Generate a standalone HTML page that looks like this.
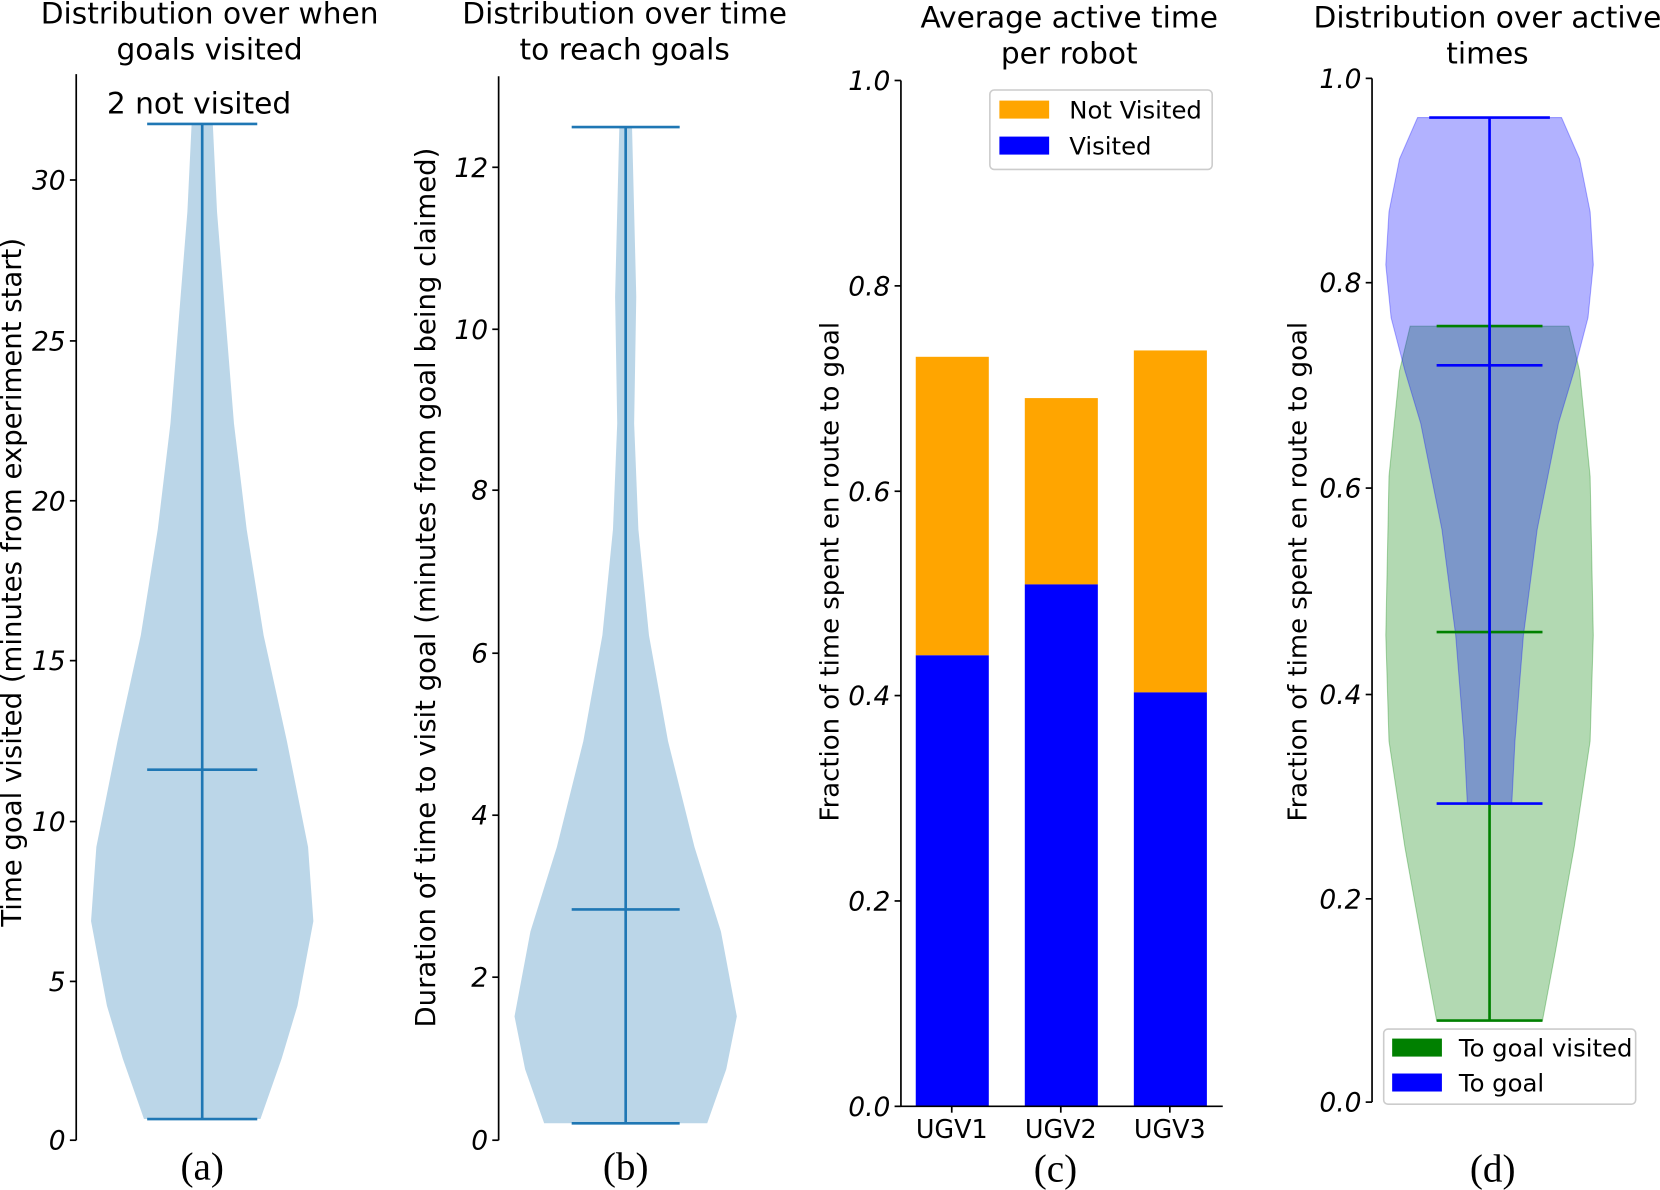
<!DOCTYPE html>
<html><head><meta charset="utf-8"><style>
html,body{margin:0;padding:0;background:#fff;}
svg{display:block;}
text{font-family:"DejaVu Sans","Liberation Sans",sans-serif;fill:#000;}
.t{font-size:28px;}
.tk{font-size:25px;font-style:italic;}
.yl{font-size:26px;}
.yl2{font-size:24.5px;}
.cap{font-family:"Liberation Serif","DejaVu Serif",serif;font-size:37px;}
</style></head><body>
<svg width="1660" height="1190" viewBox="0 0 1568 1124" xmlns="http://www.w3.org/2000/svg">
<!-- Panel a -->
<text class="t" x="198" y="22" text-anchor="middle">Distribution over when</text>
<text class="t" x="198" y="56" text-anchor="middle">goals visited</text>
<text class="t" x="188" y="107" text-anchor="middle">2 not visited</text>
<polygon fill="#1f77b4" fill-opacity="0.3" points="201,117 205,200 213,300 221,400 233,500 249,600 271,700 291,800 296,870 281,950 266,1000 246,1057 136,1057 116,1000 101,950 86,870 91,800 111,700 133,600 149,500 161,400 169,300 177,200 181,117"/>
<g stroke="#1f77b4" stroke-width="2.5">
<line x1="191" y1="117" x2="191" y2="1057"/><line x1="139" y1="117" x2="243" y2="117"/><line x1="139" y1="727" x2="243" y2="727"/><line x1="139" y1="1057" x2="243" y2="1057"/></g>
<g stroke="#000" stroke-width="1.6"><line x1="72" y1="70" x2="72" y2="1077"/>
<line x1="66" y1="1077" x2="72" y2="1077"/><line x1="66" y1="927" x2="72" y2="927"/><line x1="66" y1="776" x2="72" y2="776"/><line x1="66" y1="624" x2="72" y2="624"/><line x1="66" y1="473" x2="72" y2="473"/><line x1="66" y1="322" x2="72" y2="322"/><line x1="66" y1="170" x2="72" y2="170"/></g>
<g class="tk" text-anchor="end"><text x="62" y="1086">0</text><text x="62" y="936">5</text><text x="62" y="785">10</text><text x="62" y="633">15</text><text x="62" y="482">20</text><text x="62" y="331">25</text><text x="62" y="179">30</text></g>
<text class="yl" transform="translate(20,550) rotate(-90)" text-anchor="middle">Time goal visited (minutes from experiment start)</text>
<text class="cap" x="191" y="1114" text-anchor="middle">(a)</text>

<!-- Panel b -->
<text class="t" x="590" y="22" text-anchor="middle">Distribution over time</text>
<text class="t" x="590" y="56" text-anchor="middle">to reach goals</text>
<polygon fill="#1f77b4" fill-opacity="0.3" points="597,120 599,200 601,280 599,400 603,500 613,600 631,700 656,800 681,880 696,960 686,1010 668,1061 514,1061 496,1010 486,960 501,880 526,800 551,700 569,600 579,500 583,400 581,280 583,200 585,120"/>
<g stroke="#1f77b4" stroke-width="2.5">
<line x1="591" y1="120" x2="591" y2="1061"/><line x1="540" y1="120" x2="642" y2="120"/><line x1="540" y1="859" x2="642" y2="859"/><line x1="540" y1="1061" x2="642" y2="1061"/></g>
<g stroke="#000" stroke-width="1.6"><line x1="471" y1="72" x2="471" y2="1077"/>
<line x1="465" y1="1077" x2="471" y2="1077"/><line x1="465" y1="923" x2="471" y2="923"/><line x1="465" y1="770" x2="471" y2="770"/><line x1="465" y1="617" x2="471" y2="617"/><line x1="465" y1="463" x2="471" y2="463"/><line x1="465" y1="311" x2="471" y2="311"/><line x1="465" y1="158" x2="471" y2="158"/></g>
<g class="tk" text-anchor="end"><text x="461" y="1086">0</text><text x="461" y="932">2</text><text x="461" y="779">4</text><text x="461" y="626">6</text><text x="461" y="472">8</text><text x="461" y="320">10</text><text x="461" y="167">12</text></g>
<text class="yl" transform="translate(411,555) rotate(-90)" text-anchor="middle">Duration of time to visit goal (minutes from goal being claimed)</text>
<text class="cap" x="591" y="1114" text-anchor="middle">(b)</text>

<!-- Panel c -->
<text class="t" x="1010" y="26" text-anchor="middle">Average active time</text>
<text class="t" x="1010" y="60" text-anchor="middle">per robot</text>
<rect x="865" y="337" width="69" height="282" fill="#ffa500"/><rect x="865" y="619" width="69" height="426" fill="#0000ff"/>
<rect x="968" y="376" width="69" height="176" fill="#ffa500"/><rect x="968" y="552" width="69" height="493" fill="#0000ff"/>
<rect x="1071" y="331" width="69" height="323" fill="#ffa500"/><rect x="1071" y="654" width="69" height="391" fill="#0000ff"/>
<g stroke="#000" stroke-width="1.6"><line x1="851" y1="76" x2="851" y2="1045"/><line x1="851" y1="1045" x2="1155" y2="1045"/>
<line x1="845" y1="1045" x2="851" y2="1045"/><line x1="845" y1="851" x2="851" y2="851"/><line x1="845" y1="657" x2="851" y2="657"/><line x1="845" y1="464" x2="851" y2="464"/><line x1="845" y1="270" x2="851" y2="270"/><line x1="845" y1="76" x2="851" y2="76"/>
<line x1="899" y1="1045" x2="899" y2="1051"/><line x1="1002" y1="1045" x2="1002" y2="1051"/><line x1="1105" y1="1045" x2="1105" y2="1051"/></g>
<g class="tk" text-anchor="end"><text x="841" y="1054">0.0</text><text x="841" y="860">0.2</text><text x="841" y="666">0.4</text><text x="841" y="473">0.6</text><text x="841" y="279">0.8</text><text x="841" y="85">1.0</text></g>
<g class="t" text-anchor="middle" style="font-size:24px"><text x="899" y="1075">UGV1</text><text x="1002" y="1075">UGV2</text><text x="1105" y="1075">UGV3</text></g>
<text class="yl2" transform="translate(792,540) rotate(-90)" text-anchor="middle">Fraction of time spent en route to goal</text>
<rect x="935" y="85" width="210" height="75" rx="4" fill="#fff" fill-opacity="0.8" stroke="#ccc" stroke-width="1.5"/>
<rect x="944" y="95" width="47" height="17" fill="#ffa500"/><rect x="944" y="129" width="47" height="17" fill="#0000ff"/>
<text x="1010" y="112" style="font-size:23px">Not Visited</text><text x="1010" y="146" style="font-size:23px">Visited</text>
<text class="cap" x="997" y="1116" text-anchor="middle">(c)</text>

<!-- Panel d -->
<text class="t" x="1405" y="26" text-anchor="middle">Distribution over active</text>
<text class="t" x="1405" y="60" text-anchor="middle">times</text>
<polygon fill="#008000" fill-opacity="0.3" stroke="#008000" stroke-opacity="0.3" points="1482,308 1492,350 1502,450 1505,600 1502,700 1487,800 1469,900 1457,964 1357,964 1345,900 1327,800 1312,700 1309,600 1312,450 1322,350 1332,308"/>
<polygon fill="#0000ff" fill-opacity="0.3" stroke="#0000ff" stroke-opacity="0.3" points="1475,111 1492,150 1502,200 1505,250 1500,300 1487,350 1472,400 1452,500 1439,600 1431,700 1428,759 1386,759 1383,700 1375,600 1362,500 1342,400 1327,350 1314,300 1309,250 1312,200 1322,150 1339,111"/>
<g stroke="#008000" stroke-width="2.5"><line x1="1407" y1="308" x2="1407" y2="964"/><line x1="1357" y1="308" x2="1457" y2="308"/><line x1="1357" y1="597" x2="1457" y2="597"/><line x1="1357" y1="964" x2="1457" y2="964"/></g>
<g stroke="#0000ff" stroke-width="2.5"><line x1="1407" y1="111" x2="1407" y2="759"/><line x1="1350" y1="111" x2="1464" y2="111"/><line x1="1357" y1="345" x2="1457" y2="345"/><line x1="1357" y1="759" x2="1457" y2="759"/></g>
<g stroke="#000" stroke-width="1.6"><line x1="1296" y1="74" x2="1296" y2="1041"/>
<line x1="1290" y1="1041" x2="1296" y2="1041"/><line x1="1290" y1="849" x2="1296" y2="849"/><line x1="1290" y1="656" x2="1296" y2="656"/><line x1="1290" y1="461" x2="1296" y2="461"/><line x1="1290" y1="267" x2="1296" y2="267"/><line x1="1290" y1="74" x2="1296" y2="74"/></g>
<g class="tk" text-anchor="end"><text x="1286" y="1050">0.0</text><text x="1286" y="858">0.2</text><text x="1286" y="665">0.4</text><text x="1286" y="470">0.6</text><text x="1286" y="276">0.8</text><text x="1286" y="83">1.0</text></g>
<text class="yl2" transform="translate(1234,540) rotate(-90)" text-anchor="middle">Fraction of time spent en route to goal</text>
<rect x="1307" y="972" width="238" height="71" rx="4" fill="#fff" fill-opacity="0.8" stroke="#ccc" stroke-width="1.5"/>
<rect x="1315" y="981" width="47" height="17" fill="#008000"/><rect x="1315" y="1014" width="47" height="17" fill="#0000ff"/>
<text x="1378" y="998" style="font-size:23px">To goal visited</text><text x="1378" y="1031" style="font-size:23px">To goal</text>
<text class="cap" x="1410" y="1116" text-anchor="middle">(d)</text>
</svg>
</body></html>
